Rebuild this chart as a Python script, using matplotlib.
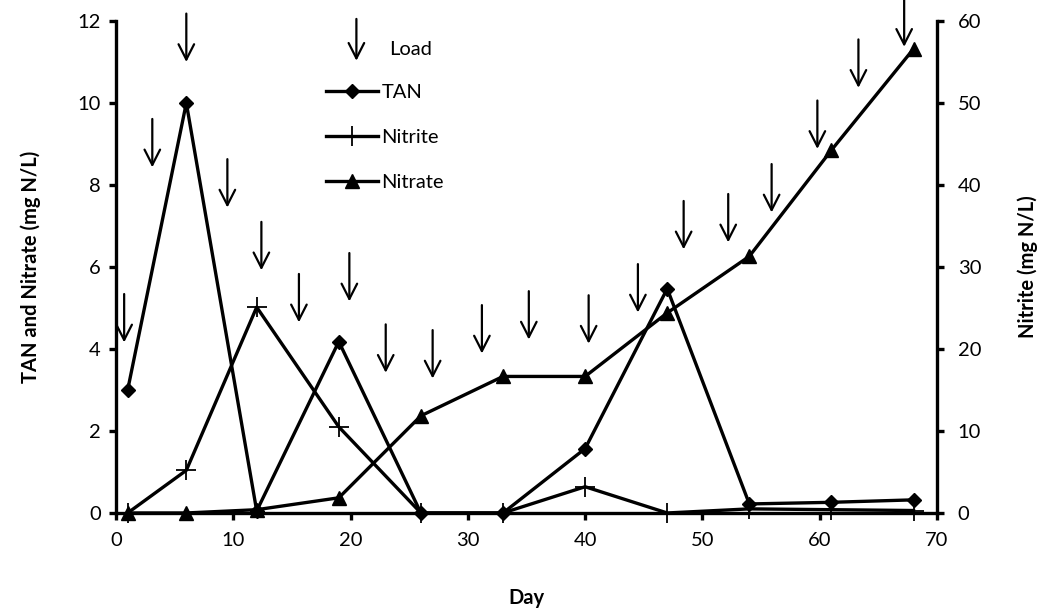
import matplotlib
matplotlib.use("Agg")
import matplotlib.pyplot as plt

plt.rcParams['font.family'] = ['Lato', 'DejaVu Sans']

# ---- data ----
days = [1, 6, 12, 19, 26, 33, 40, 47, 54, 61, 68]
tan = [3.0, 10.0, 0.05, 4.18, 0.0, 0.0, 1.57, 5.47, 0.22, 0.26, 0.32]
nitrate = [0.0, 0.0, 0.08, 0.37, 2.37, 3.33, 3.33, 4.88, 6.26, 8.85, 11.32]
nitrite = [0.0, 5.2, 25.1, 10.5, 0.0, 0.0, 3.2, 0.0, 0.5, 0.4, 0.3]

load_days = [0.7, 3.1, 6.0, 9.5, 12.4, 15.6, 19.9, 23.0, 27.0, 31.2, 35.2,
             40.3, 44.5, 48.4, 52.2, 55.9, 59.8, 63.3, 67.2]
load_tip = [4.16, 8.43, 11.0, 7.45, 5.92, 4.65, 5.16, 3.42, 3.28, 3.89, 4.23,
            4.13, 4.89, 6.43, 6.6, 7.33, 8.88, 10.37, 11.37]

left_ticks = [0, 2, 4, 6, 8, 10, 12]
right_ticks = [0, 10, 20, 30, 40, 50, 60]
x_ticks = [0, 10, 20, 30, 40, 50, 60, 70]

# ---- figure ----
fig = plt.figure(figsize=(10.54, 6.15), dpi=100)
ax = fig.add_axes([0.110, 0.1659, 0.779, 0.800])
ax2 = ax.twinx()

lw = 2.4
fs = 14.5
l_tan, = ax.plot(days, tan, color='black', lw=lw, marker='D', ms=7.5,
                 label='TAN', clip_on=False, zorder=3)
l_nitrate, = ax.plot(days, nitrate, color='black', lw=lw, marker='^', ms=10,
                     label='Nitrate', clip_on=False, zorder=3)
l_nitrite, = ax2.plot(days, nitrite, color='black', lw=lw, marker='+', ms=14,
                      mew=1.3, label='Nitrite', clip_on=False, zorder=3)

ax.set_xlim(0, 70)
ax.set_ylim(0, 12)
ax2.set_ylim(0, 60)
ax.set_xticks(x_ticks)
ax.set_yticks(left_ticks)
ax2.set_yticks(right_ticks)

for a in (ax, ax2):
    a.spines['top'].set_visible(False)
    for s in a.spines.values():
        s.set_linewidth(2.4)
ax.spines['right'].set_visible(False)
ax2.spines['left'].set_visible(False)
ax2.spines['bottom'].set_visible(False)

ax.tick_params(axis='both', direction='out', length=5, width=2.4,
               labelsize=fs, pad=6, colors='black')
ax2.tick_params(axis='y', direction='out', length=5, width=2.4,
                labelsize=fs, pad=10)
ax.tick_params(axis='x', pad=9)

ax.set_xlabel('Day', fontsize=fs, fontweight='bold', labelpad=28)
ax.set_ylabel('TAN and Nitrate (mg N/L)', fontsize=fs, fontweight='bold',
              labelpad=26)
ax2.set_ylabel('Nitrite (mg N/L)', fontsize=fs, fontweight='bold',
               labelpad=26)

# load arrows
arrow_len = 1.18
aprops = dict(arrowstyle='->,head_length=0.55,head_width=0.28',
              lw=1.6, color='black', mutation_scale=20,
              shrinkA=0, shrinkB=0)
for d, t in zip(load_days, load_tip):
    ax.annotate('', xy=(d, t), xytext=(d, t + arrow_len),
                arrowprops=aprops, annotation_clip=False, zorder=5)

# legend: Load arrow entry
ax.annotate('', xy=(20.5, 11.03), xytext=(20.5, 12.05),
            arrowprops=aprops, annotation_clip=False, zorder=5)
ax.text(23.3, 11.3, 'Load', fontsize=fs, va='center', ha='left')

leg = ax.legend(handles=[l_tan, l_nitrite, l_nitrate],
                loc='upper left', bbox_to_anchor=(0.256, 0.873),
                frameon=False, fontsize=fs, handlelength=2.6,
                handletextpad=0.15, labelspacing=1.4, borderpad=0,
                borderaxespad=0)

fig.savefig('out.png', dpi=100)
